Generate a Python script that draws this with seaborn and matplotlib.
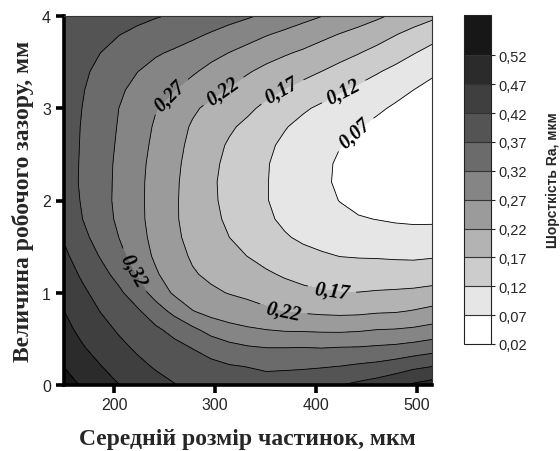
import matplotlib
matplotlib.use("Agg")
import matplotlib.pyplot as plt
import numpy as np
import seaborn as sns

# Grid of the response surface
particle_size = [150, 168.25, 186.5, 204.75, 223, 241.25, 259.5, 277.75, 296, 314.25, 332.5,
                 350.75, 369, 387.25, 405.5, 423.75, 442, 460.25, 478.5, 496.75, 515]
gap_width = [0.0, 0.2, 0.4, 0.6, 0.8, 1.0, 1.2, 1.4, 1.6, 1.8, 2.0,
             2.2, 2.4, 2.6, 2.8, 3.0, 3.2, 3.4, 3.6, 3.8, 4.0]

# roughness Ra in thousandths of a micron, one row per gap value
ra_x1000 = [
    [543, 515, 492, 471, 452, 435, 422, 411, 402, 396, 392, 389, 388, 397, 408, 419, 430, 442, 458, 477, 490],
    [520, 494, 472, 450, 431, 416, 404, 393, 383, 374, 369, 363, 365, 365, 367, 371, 378, 384, 395, 410, 420],
    [501, 475, 452, 431, 414, 400, 385, 369, 352, 336, 326, 321, 321, 322, 320, 323, 324, 328, 332, 340, 350],
    [485, 458, 435, 415, 398, 378, 356, 330, 303, 286, 276, 270, 265, 264, 262, 261, 264, 270, 272, 277, 286],
    [471, 444, 419, 400, 377, 343, 307, 272, 253, 243, 237, 228, 218, 214, 210, 208, 209, 214, 216, 223, 233],
    [457, 429, 404, 379, 344, 301, 263, 238, 227, 218, 210, 199, 188, 181, 175, 171, 171, 174, 176, 179, 185],
    [443, 414, 386, 355, 315, 276, 244, 224, 212, 199, 188, 176, 165, 155, 148, 143, 142, 143, 143, 143, 146],
    [430, 398, 367, 334, 297, 262, 235, 215, 198, 183, 169, 155, 143, 132, 125, 119, 117, 116, 114, 113, 116],
    [417, 383, 351, 320, 287, 256, 229, 207, 188, 170, 154, 138, 124, 113, 105, 98, 93, 90, 88, 86, 87],
    [403, 371, 341, 312, 282, 253, 226, 202, 181, 162, 144, 127, 112, 100, 89, 80, 73, 69, 65, 63, 63],
    [394, 367, 338, 309, 281, 253, 226, 201, 178, 157, 139, 122, 106, 93, 80, 69, 59, 52, 48, 45, 45],
    [390, 365, 338, 310, 281, 254, 227, 202, 177, 156, 138, 122, 105, 90, 77, 64, 52, 43, 36, 32, 31],
    [389, 366, 339, 311, 283, 256, 230, 204, 180, 159, 140, 123, 106, 91, 78, 65, 51, 40, 32, 27, 24],
    [389, 367, 341, 314, 287, 260, 234, 209, 185, 165, 147, 129, 111, 96, 83, 71, 59, 47, 37, 29, 24],
    [389, 368, 343, 317, 290, 265, 240, 215, 194, 176, 160, 141, 123, 107, 94, 83, 72, 60, 48, 37, 30],
    [389, 370, 347, 320, 295, 272, 251, 227, 209, 194, 178, 160, 142, 126, 112, 100, 89, 77, 64, 51, 41],
    [389, 373, 353, 328, 306, 288, 271, 251, 232, 216, 199, 183, 168, 154, 140, 124, 111, 98, 84, 70, 56],
    [390, 377, 361, 341, 321, 305, 291, 276, 257, 240, 224, 208, 195, 184, 170, 155, 140, 124, 109, 93, 78],
    [391, 381, 370, 357, 341, 325, 314, 301, 284, 269, 253, 238, 225, 213, 199, 186, 172, 156, 139, 122, 106],
    [393, 384, 378, 371, 362, 350, 340, 329, 316, 302, 289, 273, 260, 247, 232, 218, 205, 190, 172, 154, 136],
    [397, 389, 384, 382, 379, 373, 366, 356, 346, 336, 325, 312, 298, 284, 271, 256, 242, 228, 212, 195, 180],
]

# the last band is drawn taller in the colour scale, as in the original
levels = [0.02, 0.07, 0.12, 0.17, 0.22, 0.27, 0.32, 0.37, 0.42, 0.47, 0.52, 0.59]
x_ticks = [200, 300, 400, 500]
y_ticks = [0, 1, 2, 3, 4]

# Greys from white (low Ra) to near-black (high Ra)
BAND_COLORS = ["#ffffff", "#e6e6e6", "#cccccc", "#b3b3b3", "#9b9b9b", "#858585",
               "#6b6b6b", "#545454", "#3f3f3f", "#2b2b2b", "#171717"]
SERIF = "Liberation Serif"

# where the inline labels sit on the contour lines
LABEL_SPOTS = [(257, 3.12), (310, 3.16), (366, 3.19), (427, 3.19), (437, 2.74),
               (219, 1.24), (415.5, 1.02), (367.6, 0.80)]


def comma(v):
    return f"{v:.2f}".replace(".", ",")


sns.set_theme(style="ticks")
plt.rcParams["font.family"] = ["Liberation Sans", "DejaVu Sans"]

X, Y = np.meshgrid(particle_size, gap_width)
Z = np.array(ra_x1000) / 1000

fig = plt.figure(figsize=(5.6, 4.52), dpi=100)
ax = fig.add_axes([63.5 / 560, 66 / 452, 368.7 / 560, 369 / 452])

cf = ax.contourf(X, Y, Z, levels=levels, colors=BAND_COLORS)
cl = ax.contour(X, Y, Z, levels=levels[:-1], colors="black", linewidths=0.6)
labels = ax.clabel(cl, manual=LABEL_SPOTS, inline=True, fontsize=14.5, fmt=comma)
for t in labels:
    t.set_fontfamily(SERIF)
    t.set_fontweight("bold")
    t.set_fontstyle("italic")

ax.set_xlim(150, 515)
ax.set_ylim(0, 4)
ax.set_xticks(x_ticks)
ax.set_yticks(y_ticks)
for side in ["left", "bottom"]:
    ax.spines[side].set_linewidth(2.6)
    ax.spines[side].set_color("black")
for side in ["top", "right"]:
    ax.spines[side].set_linewidth(0.8)
    ax.spines[side].set_color("#333333")
ax.tick_params(axis="both", direction="out", length=6, width=2.6, color="black",
               labelsize=11.5, pad=3)
ax.set_xlabel("Середній розмір частинок, мкм", fontsize=17, fontweight="bold",
              family=SERIF, labelpad=11)
ax.set_ylabel("Величина робочого зазору, мм", fontsize=17, fontweight="bold",
              family=SERIF, labelpad=6)

cax = fig.add_axes([464 / 560, 107 / 452, 27 / 560, 329 / 452])
cb = fig.colorbar(cf, cax=cax, ticks=levels[:-1], drawedges=True, spacing="proportional")
cb.ax.set_yticklabels([comma(v) for v in levels[:-1]])
cb.outline.set_linewidth(0.8)
cb.outline.set_edgecolor("#222222")
cb.dividers.set_color("#333333")
cb.dividers.set_linewidth(0.8)
cb.ax.tick_params(length=3, width=0.8, labelsize=10.5, pad=2)
cb.set_label("Шорсткість Ra, мкм", fontsize=10, fontweight="bold", labelpad=14)

fig.savefig("out.png", dpi=100)
